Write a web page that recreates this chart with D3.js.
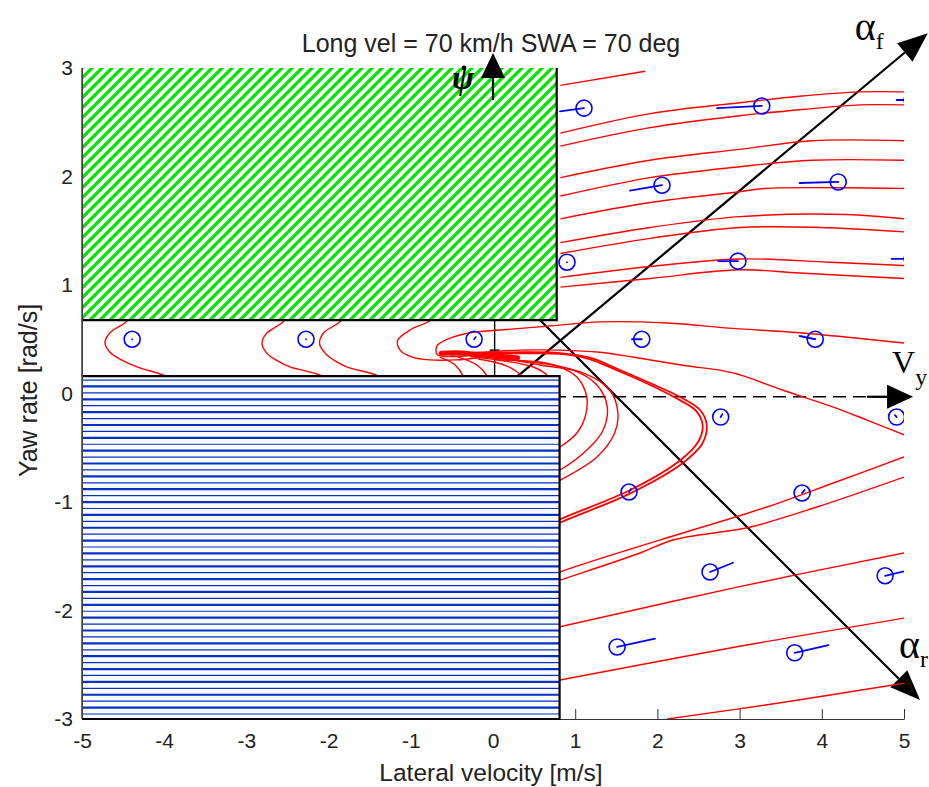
<!DOCTYPE html>
<html>
<head>
<meta charset="utf-8">
<script src="https://cdn.jsdelivr.net/npm/d3@7"></script>
<style>
  body { margin: 0; background: #fff; }
  text { font-family: "Liberation Sans", Arial, sans-serif; fill: #222; }
  .serif { font-family: "Liberation Serif", "Times New Roman", serif; fill: #000; }
</style>
</head>
<body>
<div id="graph-container"></div>
<script>
// Chart size and margins (plot box is 822 x 651)
const margin = { top: 68, right: 25, bottom: 68, left: 82 };
const width = 929 - margin.left - margin.right;
const height = 787 - margin.top - margin.bottom;

// ---- data -------------------------------------------------------------
const xTicks = d3.range(-5, 6);
const yTicks = d3.range(-3, 4);
const titleText = "Long vel = 70 km/h SWA = 70 deg";
const xLabel = "Lateral velocity [m/s]";
const yLabel = "Yaw rate [rad/s]";

// shaded regions [xMin, xMax, yMin, yMax]
const upperRegion = [-5, 0.775, 0.677, 3];
const lowerRegion = [-5, 0.81, -3, 0.161];

// trajectories, [lateral velocity, yaw rate]
const upperFlow = [
  [[0.82, 2.84], [1.85, 2.97]],
  [[0.82, 2.40], [1.91, 2.58], [3.00, 2.68], [3.73, 2.74], [4.46, 2.78], [5, 2.78]],
  [[0.82, 2.28], [1.91, 2.45], [3.00, 2.56], [3.80, 2.62], [4.46, 2.66], [5, 2.66]],
  [[0.82, 1.99], [1.91, 2.15], [3.00, 2.25], [3.88, 2.33], [5, 2.33]],
  [[0.82, 1.82], [1.91, 1.99], [3.00, 2.09], [3.88, 2.15], [5, 2.15]],
  [[0.82, 1.61], [1.91, 1.76], [3.00, 1.86], [3.30, 1.89], [5, 1.89]],
  [[0.82, 1.39], [1.91, 1.53], [3.00, 1.63], [4.30, 1.65], [5, 1.61]],
  [[0.82, 1.29], [1.91, 1.43], [3.00, 1.53], [3.98, 1.53], [5, 1.49]],
  [[0.82, 1.07], [1.91, 1.17], [3.00, 1.24], [4.10, 1.21], [5, 1.18]],
  [[0.82, 0.98], [1.91, 1.06], [3.00, 1.14], [3.73, 1.11], [5, 1.06]]
];

const bandLoops = [
  [[-4.40, 0.72], [-4.48, 0.65], [-4.66, 0.56], [-4.72, 0.47], [-4.66, 0.38], [-4.52, 0.31], [-4.33, 0.245], [-4.05, 0.18], [-3.85, 0.12]],
  [[-2.48, 0.72], [-2.57, 0.65], [-2.76, 0.55], [-2.81, 0.46], [-2.75, 0.37], [-2.62, 0.30], [-2.47, 0.245], [-2.14, 0.18], [-1.95, 0.12]],
  [[-1.80, 0.72], [-1.88, 0.65], [-2.06, 0.56], [-2.11, 0.46], [-2.04, 0.37], [-1.92, 0.30], [-1.78, 0.245], [-1.46, 0.18], [-1.26, 0.12]]
];

const spiralFlow = [
  [[-0.72, 0.72], [-0.77, 0.67], [-1.01, 0.585], [-1.16, 0.49], [-1.13, 0.40], [-0.985, 0.336], [-0.77, 0.31], [-0.46, 0.31], [-0.16, 0.33]],
  [[5, 0.465], [3.73, 0.56], [2.92, 0.60], [2.12, 0.65], [1.30, 0.66], [0.66, 0.62], [0.085, 0.585], [-0.28, 0.56], [-0.52, 0.51], [-0.68, 0.44], [-0.68, 0.36], [-0.52, 0.34], [-0.28, 0.35]],
  [[5, -0.38], [4.55, -0.245], [4.14, -0.125], [3.53, 0.03], [2.92, 0.19], [2.31, 0.26], [1.70, 0.336], [1.30, 0.38], [0.815, 0.40], [0.33, 0.40], [-0.16, 0.38], [-0.52, 0.37]],
  [[-0.28, 0.34], [0.085, 0.31], [0.57, 0.29], [0.815, 0.244], [1.02, 0.152], [1.14, -0.03], [1.12, -0.217], [1.02, -0.364], [0.815, -0.493], [0.57, -0.585]],
  [[-0.28, 0.35], [0.085, 0.32], [0.57, 0.28], [0.97, 0.217], [1.265, 0.078], [1.39, -0.124], [1.34, -0.336], [1.18, -0.493], [0.815, -0.705], [0.57, -0.78]],
  [[-0.28, 0.36], [0.085, 0.33], [0.57, 0.263], [1.095, 0.19], [1.42, 0.032], [1.52, -0.18], [1.48, -0.364], [1.265, -0.585], [0.815, -0.80], [0.57, -0.89]],
  [[-0.645, 0.336], [-0.46, 0.263], [-0.365, 0.16], [-0.33, 0.03]],
  [[-0.425, 0.336], [-0.195, 0.263], [-0.07, 0.16], [-0.01, 0.03]],
  [[-0.18, 0.318], [0.17, 0.253], [0.35, 0.16], [0.45, 0.03]],
  [[0.024, 0.31], [0.49, 0.244], [0.67, 0.16], [0.77, 0.03]]
];

// the heavy hook and the dense bundle near the focus
const hookFlow = [
  [[0.57, -1.28], [0.815, -1.19], [1.67, -0.92], [2.31, -0.64], [2.55, -0.456], [2.60, -0.29], [2.52, -0.152], [2.27, -0.03], [1.91, 0.097], [1.545, 0.217], [1.18, 0.33], [0.815, 0.373], [0.33, 0.38], [-0.16, 0.373], [-0.52, 0.355]],
  [[0.57, -1.25], [0.815, -1.16], [1.67, -0.89], [2.27, -0.62], [2.50, -0.44], [2.55, -0.29], [2.47, -0.16], [2.22, -0.04], [1.88, 0.09], [1.52, 0.21], [1.16, 0.32], [0.815, 0.365], [0.33, 0.37], [-0.16, 0.365]]
];
const bundle = [[-0.63, 0.37], [-0.45, 0.375], [-0.2, 0.36], [0.05, 0.345], [0.3, 0.33]];

const lowerFlow = [
  [[0.5, -1.75], [0.815, -1.645], [1.79, -1.406], [2.19, -1.313], [3.33, -1.046], [4.14, -0.825], [5, -0.585]],
  [[0.5, -1.80], [0.815, -1.72], [1.79, -1.47], [2.19, -1.35], [3.13, -1.23], [3.94, -1.046], [5, -0.77]],
  [[0.5, -2.20], [0.815, -2.15], [3.0, -1.78], [5, -1.47]],
  [[0.5, -2.68], [0.815, -2.64], [3.0, -2.33], [5, -2.07]],
  [[2.12, -3.0], [3.5, -2.85], [5, -2.67]]
];

// direction markers [x, y, xEnd, yEnd]
const quiver = [
  [1.107, 2.63, 0.815, 2.60], [3.27, 2.65, 2.725, 2.63], [5.10, 2.705, 4.91, 2.705],
  [2.056, 1.92, 1.667, 1.87], [4.20, 1.95, 3.73, 1.94],
  [0.90, 1.21, 0.90, 1.21], [2.98, 1.22, 2.74, 1.22], [5.10, 1.24, 4.85, 1.24],
  [-4.39, 0.50, -4.39, 0.50], [-2.275, 0.50, -2.275, 0.50], [-0.23, 0.50, -0.21, 0.52],
  [1.81, 0.50, 1.69, 0.50], [3.92, 0.50, 3.73, 0.53],
  [2.77, -0.217, 2.79, -0.19], [4.91, -0.217, 4.89, -0.20],
  [1.655, -0.908, 1.68, -0.88], [3.76, -0.917, 3.79, -0.89],
  [2.64, -1.645, 2.92, -1.56], [4.77, -1.68, 5.0, -1.64],
  [1.51, -2.336, 1.97, -2.26], [3.67, -2.39, 4.08, -2.32]
];

// state-space direction axes [[x0, y0], [xTip, yTip]]
const vyAxis = [[0, -0.03], [5.11, -0.03]];
const alphaF = [[0, -0.03], [5.29, 3.32]];
const alphaR = [[0.33, 0.86], [5.195, -2.825]];
const psiAxis = [[0.02, 0.161], [0.02, 0.677]];
const psiArrow = [[0, 2.705], [0, 3.138]];
const eqPoint = [0.02, 0.40];

// ---- scales -----------------------------------------------------------
const x = d3.scaleLinear().domain([-5, 5]).range([0, width]);
const y = d3.scaleLinear().domain([-3, 3]).range([height, 0]);

const svg = d3.select("#graph-container")
  .append("svg")
    .attr("width", width + margin.left + margin.right)
    .attr("height", height + margin.top + margin.bottom)
  .append("g")
    .attr("transform", `translate(${margin.left},${margin.top})`);

const defs = svg.append("defs");
defs.append("clipPath").attr("id", "plot-clip")
  .append("rect").attr("width", width).attr("height", height);

const hatch = defs.append("pattern")
  .attr("id", "green-hatch")
  .attr("patternUnits", "userSpaceOnUse")
  .attr("width", 10).attr("height", 10);
hatch.append("rect").attr("width", 10).attr("height", 10).attr("fill", "#fff");
hatch.append("path")
  .attr("d", "M-2,2L2,-2M0,10L10,0M8,12L12,8")
  .attr("stroke", "#00e400").attr("stroke-width", 3.3);

// ---- axes -------------------------------------------------------------
const fmt = d => String(d);
const xAxis = svg.append("g")
  .attr("transform", `translate(0,${height})`)
  .call(d3.axisBottom(x).tickValues(xTicks).tickFormat(fmt)
    .tickSize(-10).tickSizeOuter(0).tickPadding(14));
const yAxis = svg.append("g")
  .call(d3.axisLeft(y).tickValues(yTicks).tickFormat(fmt)
    .tickSize(-10).tickSizeOuter(0).tickPadding(9));
[xAxis, yAxis].forEach(a => {
  a.selectAll("path, line").attr("stroke", "#333");
  a.selectAll("text").attr("font-size", 21).attr("fill", "#222")
    .attr("font-family", "Liberation Sans, Arial, sans-serif");
});

svg.append("text")
  .attr("x", width / 2 - 2).attr("y", height + 62)
  .attr("text-anchor", "middle").attr("font-size", 24.5)
  .text(xLabel);
svg.append("text")
  .attr("transform", `translate(-45,${height / 2 - 3}) rotate(-90)`)
  .attr("text-anchor", "middle").attr("font-size", 25)
  .text(yLabel);
svg.append("text")
  .attr("x", x(0) - 2).attr("y", -16)
  .attr("text-anchor", "middle").attr("font-size", 25)
  .text(titleText);

// ---- direction axes (under the shaded regions) -------------------------
function head(p0, p1, len, half) {
  const x0 = x(p0[0]), y0 = y(p0[1]), x1 = x(p1[0]), y1 = y(p1[1]);
  const a = Math.atan2(y1 - y0, x1 - x0);
  const bx = x1 - len * Math.cos(a), by = y1 - len * Math.sin(a);
  const nx = -Math.sin(a) * half, ny = Math.cos(a) * half;
  return { base: [bx, by], d: `M${x1},${y1}L${bx + nx},${by + ny}L${bx - nx},${by - ny}Z` };
}

const annot = svg.append("g");
[alphaF, alphaR].forEach(seg => {
  const h = head(seg[0], seg[1], 30, 12);
  annot.append("line")
    .attr("x1", x(seg[0][0])).attr("y1", y(seg[0][1]))
    .attr("x2", h.base[0]).attr("y2", h.base[1])
    .attr("stroke", "#000").attr("stroke-width", 2.2);
  annot.append("path").attr("d", h.d).attr("fill", "#000");
});
const vh = head(vyAxis[0], vyAxis[1], 26, 12);
annot.append("line")
  .attr("x1", x(vyAxis[0][0])).attr("y1", y(vyAxis[0][1]))
  .attr("x2", vh.base[0]).attr("y2", vh.base[1])
  .attr("stroke", "#000").attr("stroke-width", 1.6)
  .attr("stroke-dasharray", "13,7");
annot.append("line")
  .attr("x1", vh.base[0] - 20).attr("y1", vh.base[1])
  .attr("x2", vh.base[0]).attr("y2", vh.base[1])
  .attr("stroke", "#000").attr("stroke-width", 2.2);
annot.append("path").attr("d", vh.d).attr("fill", "#000");
annot.append("line")
  .attr("x1", x(psiAxis[0][0])).attr("y1", y(psiAxis[0][1]))
  .attr("x2", x(psiAxis[1][0])).attr("y2", y(psiAxis[1][1]))
  .attr("stroke", "#000").attr("stroke-width", 1.4);
annot.append("line")
  .attr("x1", x(eqPoint[0]) - 5).attr("x2", x(eqPoint[0]) + 5)
  .attr("y1", y(eqPoint[1])).attr("y2", y(eqPoint[1]))
  .attr("stroke", "#000").attr("stroke-width", 1.4);

// ---- trajectories ------------------------------------------------------
const line = d3.line()
  .x(d => x(d[0]))
  .y(d => y(d[1]))
  .curve(d3.curveCatmullRom.alpha(0.5));

const plot = svg.append("g").attr("clip-path", "url(#plot-clip)");

plot.selectAll(".traj")
  .data([...upperFlow, ...bandLoops, ...spiralFlow, ...lowerFlow])
  .join("path")
    .attr("class", "traj")
    .attr("fill", "none")
    .attr("stroke", "#ff0000")
    .attr("stroke-width", 1.4)
    .attr("d", line);

plot.selectAll(".hook")
  .data(hookFlow)
  .join("path")
    .attr("class", "hook")
    .attr("fill", "none")
    .attr("stroke", "#ff0000")
    .attr("stroke-width", 1.8)
    .attr("d", line);

plot.append("path")
  .datum(bundle)
  .attr("fill", "none")
  .attr("stroke", "#ff0000")
  .attr("stroke-width", 5)
  .attr("stroke-linecap", "round")
  .attr("d", line);

// direction markers
const marks = plot.selectAll(".mark").data(quiver).join("g").attr("class", "mark");
marks.append("line")
  .attr("x1", d => x(d[0])).attr("y1", d => y(d[1]))
  .attr("x2", d => x(d[2])).attr("y2", d => y(d[3]))
  .attr("stroke", "#0000ff").attr("stroke-width", 1.8)
  .attr("stroke-linecap", "round");
marks.append("circle")
  .attr("cx", d => x(d[0])).attr("cy", d => y(d[1]))
  .attr("r", 8)
  .attr("fill", "none").attr("stroke", "#0000ff").attr("stroke-width", 1.6);

// ---- shaded regions ----------------------------------------------------
const up = {
  x0: x(upperRegion[0]), x1: x(upperRegion[1]),
  y0: y(upperRegion[3]), y1: y(upperRegion[2])
};
svg.append("rect")
  .attr("x", up.x0 + 1).attr("y", up.y0)
  .attr("width", up.x1 - up.x0 - 1).attr("height", up.y1 - up.y0)
  .attr("fill", "url(#green-hatch)");

const lo = {
  x0: x(lowerRegion[0]), x1: x(lowerRegion[1]),
  y0: y(lowerRegion[3]), y1: y(lowerRegion[2])
};
svg.append("rect")
  .attr("x", lo.x0 + 1).attr("y", lo.y0)
  .attr("width", lo.x1 - lo.x0 - 1).attr("height", lo.y1 - lo.y0)
  .attr("fill", "#fff");
const nLines = 52;
svg.append("g").selectAll("line")
  .data(d3.range(nLines + 1))
  .join("line")
    .attr("x1", lo.x0 + 1).attr("x2", lo.x1)
    .attr("y1", i => lo.y0 + 4 + i * (lo.y1 - lo.y0 - 9) / nLines)
    .attr("y2", i => lo.y0 + 4 + i * (lo.y1 - lo.y0 - 9) / nLines)
    .attr("stroke", "#0030c8")
    .attr("stroke-width", i => i % 2 ? 2.2 : 1.2);

// region borders
const border = svg.append("g").attr("stroke", "#000").attr("stroke-width", 2.2).attr("fill", "none");
border.append("path").attr("d", `M${up.x1},${up.y0}V${up.y1}H${up.x0}`);
border.append("path").attr("d", `M${lo.x0},${lo.y0}H${lo.x1}V${lo.y1}H${lo.x0}`);
svg.append("line")
  .attr("x1", 0).attr("x2", 0).attr("y1", 0).attr("y2", height)
  .attr("stroke", "#444").attr("stroke-width", 1.5);

// ---- arrow over the hatch and the symbol labels -------------------------
const ph = head(psiArrow[0], psiArrow[1], 25, 12);
svg.append("line")
  .attr("x1", x(psiArrow[0][0])).attr("y1", y(psiArrow[0][1]))
  .attr("x2", ph.base[0]).attr("y2", ph.base[1])
  .attr("stroke", "#000").attr("stroke-width", 2.2);
svg.append("path").attr("d", ph.d).attr("fill", "#000");

const sym = svg.append("g");
sym.append("text").attr("class", "serif")
  .attr("x", x(psiArrow[0][0]) - 30).attr("y", y(psiArrow[0][1]) - 11)
  .attr("text-anchor", "middle").attr("font-size", 33)
  .attr("font-style", "italic").attr("font-weight", "bold")
  .text("ψ");
sym.append("circle")
  .attr("cx", x(psiArrow[0][0]) - 29).attr("cy", y(psiArrow[0][1]) - 32)
  .attr("r", 2.4).attr("fill", "#000");

const aF = sym.append("text").attr("class", "serif")
  .attr("x", x(alphaF[1][0]) - 73).attr("y", y(alphaF[1][1]) + 7)
  .attr("font-size", 40);
aF.append("tspan").text("α");
aF.append("tspan").attr("font-size", 24).attr("dy", 9).text("f");

const aR = sym.append("text").attr("class", "serif")
  .attr("x", x(alphaR[1][0]) - 21).attr("y", y(alphaR[1][1]) - 42)
  .attr("font-size", 40);
aR.append("tspan").text("α");
aR.append("tspan").attr("font-size", 24).attr("dy", 9).text("r");

const vL = sym.append("text").attr("class", "serif")
  .attr("x", x(vyAxis[1][0]) - 21).attr("y", y(vyAxis[1][1]) - 24)
  .attr("font-size", 32);
vL.append("tspan").text("V");
vL.append("tspan").attr("font-size", 24).attr("dy", 12).text("y");
</script>
</body>
</html>
